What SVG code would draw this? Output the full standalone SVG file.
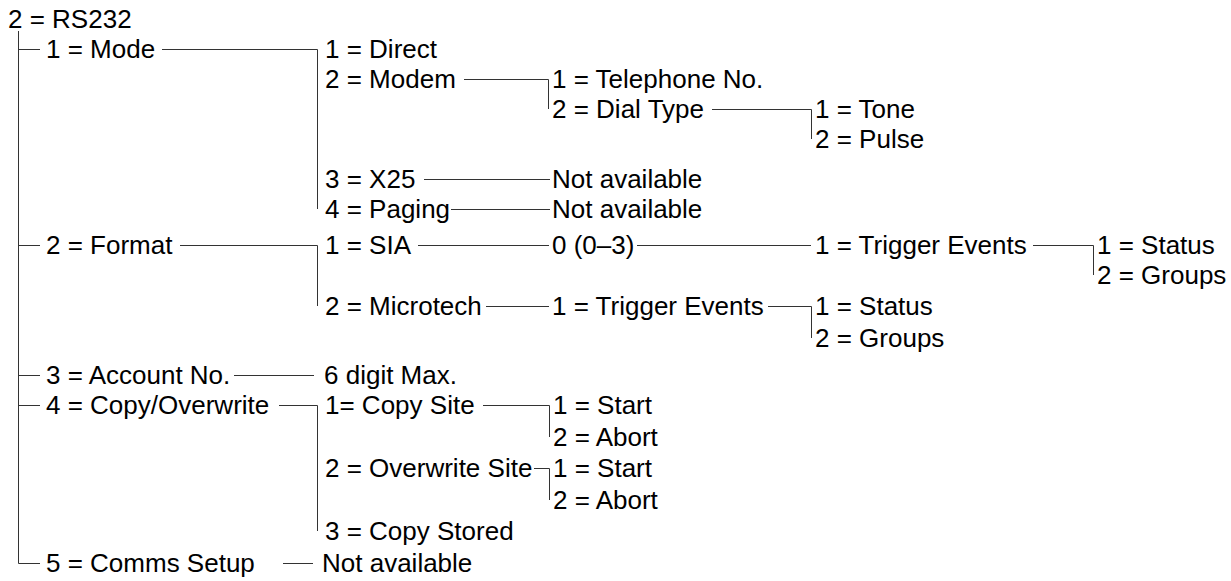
<svg xmlns="http://www.w3.org/2000/svg" width="1231" height="581" viewBox="0 0 1231 581">
<style>
text{font-family:"Liberation Sans",Arial,sans-serif;font-size:26px;fill:#000}
.c line,.c path{stroke:#333;stroke-width:1;fill:none}
</style>
<rect width="1231" height="581" fill="#fff"/>
<g class="c" id="connectors">
<path d="M18.5 31V563.5H40"/>
<line x1="18" y1="49.5" x2="40" y2="49.5"/>
<line x1="18" y1="245.5" x2="40" y2="245.5"/>
<line x1="18" y1="375.5" x2="40" y2="375.5"/>
<line x1="18" y1="405.5" x2="40" y2="405.5"/>
<path d="M162 49.5H317.5V209"/>
<path d="M464 79.5H548.5V109"/>
<path d="M712 109.5H811.5V139"/>
<line x1="424" y1="179.5" x2="550" y2="179.5"/>
<line x1="451" y1="209.5" x2="550" y2="209.5"/>
<path d="M180 245.5H317.5V306"/>
<line x1="418" y1="245.5" x2="549" y2="245.5"/>
<line x1="637" y1="245.5" x2="811" y2="245.5"/>
<path d="M1033 245.5H1093.5V275"/>
<line x1="486" y1="306.5" x2="549" y2="306.5"/>
<path d="M768 306.5H811.5V338"/>
<line x1="234" y1="375.5" x2="314" y2="375.5"/>
<path d="M279 405.5H317.5V531"/>
<path d="M483 405.5H549.5V437"/>
<path d="M534 468.5H549.5V500"/>
<line x1="283" y1="563.5" x2="313" y2="563.5"/>
</g>
<g id="n-root"><text x="8" y="28">2 = RS232</text></g>
<g id="n-mode"><text x="46" y="58">1 = Mode</text></g>
<g id="n-direct"><text x="325" y="58">1 = Direct</text></g>
<g id="n-modem"><text x="325" y="88">2 = Modem</text></g>
<g id="n-tel"><text x="552" y="88">1 = Telephone No.</text></g>
<g id="n-dial"><text x="552" y="118">2 = Dial Type</text></g>
<g id="n-tone"><text x="815" y="118">1 = Tone</text></g>
<g id="n-pulse"><text x="815" y="148">2 = Pulse</text></g>
<g id="n-x25"><text x="325" y="188">3 = X25</text></g>
<g id="n-x25na"><text x="552" y="188">Not available</text></g>
<g id="n-paging"><text x="325" y="218">4 = Paging</text></g>
<g id="n-pagingna"><text x="552" y="218">Not available</text></g>
<g id="n-format"><text x="46" y="254">2 = Format</text></g>
<g id="n-sia"><text x="325" y="254">1 = SIA</text></g>
<g id="n-sia0"><text x="552" y="254">0 (0–3)</text></g>
<g id="n-siatrig"><text x="815" y="254">1 = Trigger Events</text></g>
<g id="n-siastatus"><text x="1097" y="254">1 = Status</text></g>
<g id="n-siagroups"><text x="1097" y="284">2 = Groups</text></g>
<g id="n-micro"><text x="325" y="315">2 = Microtech</text></g>
<g id="n-microtrig"><text x="552" y="315">1 = Trigger Events</text></g>
<g id="n-microstatus"><text x="815" y="315">1 = Status</text></g>
<g id="n-microgroups"><text x="815" y="347">2 = Groups</text></g>
<g id="n-account"><text x="46" y="384">3 = Account No.</text></g>
<g id="n-digit"><text x="324" y="384">6 digit Max.</text></g>
<g id="n-copy"><text x="46" y="414">4 = Copy/Overwrite</text></g>
<g id="n-copysite"><text x="325" y="414">1= Copy Site</text></g>
<g id="n-cs-start"><text x="553" y="414">1 = Start</text></g>
<g id="n-cs-abort"><text x="553" y="446">2 = Abort</text></g>
<g id="n-overwrite"><text x="325" y="477">2 = Overwrite Site</text></g>
<g id="n-ow-start"><text x="553" y="477">1 = Start</text></g>
<g id="n-ow-abort"><text x="553" y="509">2 = Abort</text></g>
<g id="n-copystored"><text x="325" y="540">3 = Copy Stored</text></g>
<g id="n-comms"><text x="46" y="572">5 = Comms Setup</text></g>
<g id="n-commsna"><text x="322" y="572">Not available</text></g>
</svg>
